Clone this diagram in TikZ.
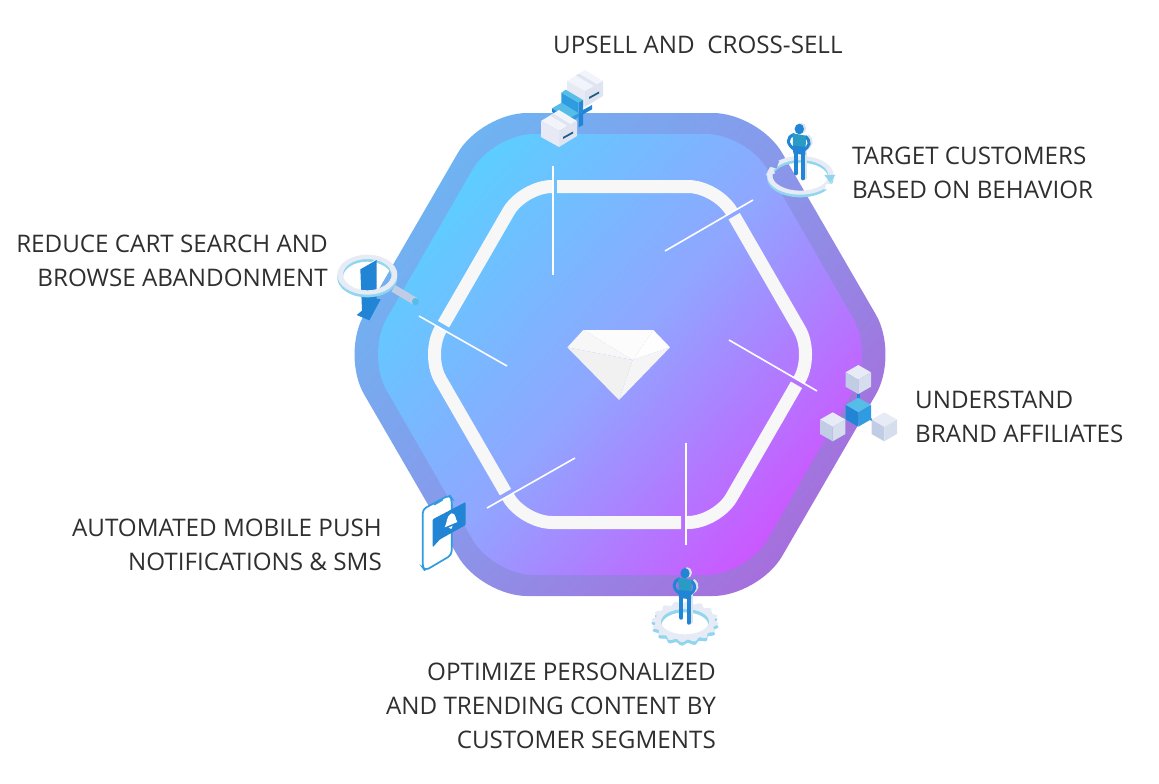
\documentclass[tikz,border=0pt]{standalone}
\usepackage{fontspec}
\setmainfont{Open Sans}
\definecolor{inA}{HTML}{5CCEFF}
\definecolor{inB}{HTML}{90A6FF}
\definecolor{inC}{HTML}{CC56FF}
\definecolor{outA}{HTML}{6EB4F2}
\definecolor{outB}{HTML}{8A96EA}
\definecolor{outC}{HTML}{A66EDC}
\definecolor{ringc}{HTML}{F7F7F7}
\definecolor{txt}{HTML}{2F2F2F}
\definecolor{bluea}{HTML}{2284D5}
\definecolor{blueb}{HTML}{2F9BE0}
\definecolor{bluec}{HTML}{55BDE8}
\definecolor{teal}{HTML}{2A9BC4}
\definecolor{rimc}{HTML}{8FD6EE}
\definecolor{palea}{HTML}{E6EBF5}
\definecolor{paleb}{HTML}{D6DEEE}
\definecolor{palec}{HTML}{C0CDE4}
\definecolor{pshade}{HTML}{DDE4EE}
\definecolor{boxa}{HTML}{F2F4FB}
\definecolor{boxb}{HTML}{E7EAF4}
\definecolor{boxc}{HTML}{E0E4F1}
\pgfdeclarehorizontalshading{ingrad}{100bp}{color(0bp)=(inA); color(25bp)=(inA); color(50bp)=(inB); color(75bp)=(inC); color(100bp)=(inC)}
\pgfdeclarehorizontalshading{outgrad}{100bp}{color(0bp)=(outA); color(25bp)=(outA); color(50bp)=(outB); color(75bp)=(outC); color(100bp)=(outC)}
\tikzset{
  ringseg/.style={draw=ringc,line width=13pt,rounded corners=29pt},
  spoke/.style={draw=white,line width=1.6pt},
  label/.style={font=\fontsize{24.2}{34}\selectfont,text=txt,inner sep=0pt},
}
\newcommand{\isobox}[2]{%
  \begin{scope}[shift={(#1,#2)}]
    \fill[boxa] (0,0) -- (-18,11) -- (0,21) -- (18,11) -- cycle;
    \fill[boxb] (-18,11) -- (0,21) -- (0,37) -- (-18,27) -- cycle;
    \fill[boxc] (18,11) -- (0,21) -- (0,37) -- (18,26) -- cycle;
    \fill[boxc] (-9,5.5) -- (-6,3.7) -- (12,14.5) -- (9,16) -- cycle;
    \fill[blueb!60!black] (4,27) -- (14,21.5) -- (14,23.5) -- (4,29) -- cycle;
  \end{scope}}
\newcommand{\isocube}[5]{%
  \begin{scope}[shift={(#1,#2)}]
    \fill[#3] (0,0) -- (-12.7,7.3) -- (0,14.7) -- (12.7,7.3) -- cycle;
    \fill[#4] (-12.7,7.3) -- (0,14.7) -- (0,29) -- (-12.7,21.7) -- cycle;
    \fill[#5] (12.7,7.3) -- (0,14.7) -- (0,29) -- (12.7,21.7) -- cycle;
  \end{scope}}
\newcommand{\standingman}[2]{%
  \begin{scope}[shift={(#1,#2)},scale=1/3]
    \begin{scope}[shift={(7,-2)}]
      \fill[pshade] (0,0) ellipse (14 and 16);
      \draw[pshade,line width=3pt] (18,22) .. controls (36,38) and (30,52) .. (12,62);
      \draw[pshade,line width=4pt,line cap=round] (11,60) -- (11,148);
    \end{scope}
    \fill[bluea] (0,0) ellipse (14 and 16);
    \draw[bluea,line width=3pt] (-14,16) .. controls (-40,24) and (-38,46) .. (-14,62);
    \draw[bluea,line width=3pt] (18,22) .. controls (36,38) and (32,52) .. (12,64);
    \draw[bluea,line width=4.2pt,line cap=round] (-11,60) -- (-11,133);
    \draw[bluea,line width=4.2pt,line cap=round] (11,60) -- (11,148);
    \fill[teal] (-20,13) -- (20,20) -- (19,58) -- (-19,54) -- cycle;
    \fill[bluea] (-19,50) -- (19,54) -- (18,78) -- (-18,74) -- cycle;
  \end{scope}}
\begin{document}
\begin{tikzpicture}[x=1pt,y=-1pt]
\useasboundingbox (0,0) rectangle (1159,784);
% hexagons
\path[shading=outgrad,shading angle=-42,rounded corners=46pt]
  (481,113) -- (759,113) -- (899,354.5) -- (759,596) -- (481,596) -- (341,354.5) -- cycle;
\path[shading=ingrad,shading angle=-42,rounded corners=41pt]
  (493,134) -- (747,134) -- (874,354.5) -- (747,575) -- (493,575) -- (366,354.5) -- cycle;
% ring corners
\coordinate (rA) at (523,186.5);
\coordinate (rB) at (717,186.5);
\coordinate (rC) at (814,354.5);
\coordinate (rD) at (717,522.5);
\coordinate (rE) at (523,522.5);
\coordinate (rF) at (426,354.5);
\draw[ringseg] (557,186.5) -- (rB) -- (731.7,211.9);
\draw[ringseg] (734.2,216.2) -- (rC) -- (799,380.5);
\draw[ringseg] (796.5,384.8) -- (rD) -- (686,522.5);
\draw[ringseg] (681,522.5) -- (rE) -- (508,496.5);
\draw[ringseg] (505.5,492.2) -- (rF) -- (441,328.5);
\draw[ringseg] (443.5,324.2) -- (rA) -- (553,186.5);
% spokes
\coordinate (s1a) at (553,166); \coordinate (s1b) at (553,275);
\coordinate (s2a) at (753,200); \coordinate (s2b) at (665,251);
\coordinate (s3a) at (817,391); \coordinate (s3b) at (729,340);
\coordinate (s4a) at (686,545); \coordinate (s4b) at (686,443);
\coordinate (s5a) at (487,508); \coordinate (s5b) at (575,458);
\coordinate (s6a) at (419,316); \coordinate (s6b) at (507,366);
\draw[spoke] (s1a) -- (s1b);
\draw[spoke] (s2a) -- (s2b);
\draw[spoke] (s3a) -- (s3b);
\draw[spoke] (s4a) -- (s4b);
\draw[spoke] (s5a) -- (s5b);
\draw[spoke] (s6a) -- (s6b);
% diamond
\begin{scope}[shift={(550,310)},scale=1/3]
  \fill[white!98!gray] (100,60) -- (310,60) -- (248,150) -- cycle;
  \fill[white!94!gray] (100,60) -- (248,150) -- (52,112) -- cycle;
  \fill[white!89!gray] (52,112) -- (248,150) -- (207,270) -- cycle;
  \fill[white!92!gray] (248,150) -- (360,112) -- (207,270) -- cycle;
  \fill[white!99!gray] (310,60) -- (360,112) -- (248,150) -- cycle;
\end{scope}
% boxes and plus
\isobox{585}{70}
\begin{scope}[shift={(520,60)},scale=1/3]
  \fill[bluea] (189,150) -- (216,135) -- (216,148) -- (189,163) -- cycle;
  \fill[bluea] (176,165) -- (189,158) -- (189,195) -- (176,202) -- cycle;
  \fill[blueb] (124,98) -- (176,128) -- (176,168) -- (124,135) -- cycle;
  \fill[bluec] (124,98) -- (137,89) -- (189,120) -- (176,128) -- cycle;
  \fill[bluea!80!blueb] (176,128) -- (189,120) -- (189,160) -- (176,168) -- cycle;
  \fill[bluec] (96,145) -- (125,128) -- (176,160) -- (147,176) -- cycle;
  \fill[bluea] (96,145) -- (147,176) -- (147,187) -- (96,156) -- cycle;
  \fill[blueb] (147,176) -- (176,160) -- (176,171) -- (147,187) -- cycle;
\end{scope}
\isobox{559}{110}
% rotating ring and man (target customers)
\begin{scope}[shift={(520,60)},scale=1/3]
  \begin{scope}[even odd rule]
    \clip (700,260) rectangle (980,430)
      (748,298) -- (778,303) -- (770,326) -- (742,318) -- cycle
      (918,370) -- (950,372) -- (950,388) -- (912,388) -- cycle;
    \fill[rimc] (841,354) ellipse (100 and 58) (841,354) ellipse (84 and 46);
    \fill[palea] (841,346) ellipse (100 and 58) (841,346) ellipse (84 and 46);
  \end{scope}
  \fill[palea] (737,346) -- (766,340) -- (752,322) -- cycle;
  \fill[rimc] (913,345) -- (946,345) -- (931,369) -- cycle;
\end{scope}
\standingman{799.3}{129}
% magnifier
\begin{scope}[shift={(330,240)},scale=1/3]
  \fill[rimc,even odd rule] (112,112) ellipse (90 and 60) (112,112) ellipse (73 and 47);
  \fill[palea,even odd rule] (112,104) ellipse (90 and 60) (112,104) ellipse (73 and 47);
  \draw[palec,line width=7.5pt] (190,145) -- (256,184);
  \fill[bluec] (256,185) ellipse (10 and 11);
  \fill[white] (85,88) -- (135,60) -- (140,70) -- (93,90) -- (93,210) -- (85,212) -- cycle;
  \fill[bluea] (91,88) -- (140,60) -- (140,176) -- (152,178) -- (118,241) -- (80,225) -- (96,212) -- cycle;
  \begin{scope}
    \clip (0,118) rectangle (220,180);
    \fill[rimc,even odd rule] (112,112) ellipse (90 and 60) (112,112) ellipse (73 and 47);
    \fill[palea,even odd rule] (112,104) ellipse (90 and 60) (112,104) ellipse (73 and 47);
  \end{scope}
\end{scope}
% network of cubes
\begin{scope}[shift={(790,350)},scale=1/3]
  \draw[bluea,line width=2.6pt] (205,133) -- (205,165);
  \draw[bluec,line width=2pt] (167,205) -- (148,216);
  \draw[bluea,line width=2pt] (225,198) -- (248,211);
\end{scope}
\isocube{858.3}{365}{palea}{palec}{paleb}
\isocube{832.7}{412.3}{palea}{palec}{paleb}
\isocube{884.3}{412.3}{palea}{palec}{paleb}
\isocube{858.3}{397.7}{bluec}{bluea}{blueb}
% phone
\begin{scope}[shift={(410,480)},scale=1/3]
  \draw[blueb,fill=white,line width=1.7pt,rounded corners=4pt]
    (38,88) -- (118,45) -- (125,55) -- (125,225) -- (45,272) -- (38,262) -- cycle;
  \fill[blueb] (70,72) -- (100,56) -- (98,62) -- (74,76) -- cycle;
  \fill[bluea,rounded corners=1pt] (68,118) -- (167,66) -- (167,135) -- (90,178) -- (68,202) -- cycle;
  \fill[white] (104,142) .. controls (112,130) and (108,108) .. (124,100) .. controls (138,98) and (136,118) .. (142,126) -- cycle;
  \fill[white] (116,143) -- (128,137) -- (124,147) -- cycle;
\end{scope}
% gear and man (optimize)
\begin{scope}[shift={(630,510)},scale=1/3]
  \fill[rimc,even odd rule] plot[domain=0:360,samples=161] ({165+(95+6*sin(16*\x))*cos(\x)},{345+(58+4*sin(16*\x))*sin(\x)}) -- cycle (165,345) ellipse (70 and 38);
  \fill[palea,even odd rule] plot[domain=0:360,samples=161] ({165+(95+6*sin(16*\x))*cos(\x)},{335+(58+4*sin(16*\x))*sin(\x)}) -- cycle (165,335) ellipse (72 and 38);
\end{scope}
\standingman{685}{573.3}
% labels
\node[label,anchor=base west] (upsell) at (553,53) {UPSELL AND\ \ CROSS-SELL};
\node[label,anchor=base west] (target1) at (852,164) {TARGET CUSTOMERS};
\node[label,anchor=base west] (target2) at (852,198) {BASED ON BEHAVIOR};
\node[label,anchor=base east] (reduce1) at (328,252.5) {REDUCE CART SEARCH AND};
\node[label,anchor=base east] (reduce2) at (328,286.5) {BROWSE ABANDONMENT};
\node[label,anchor=base west] (brand1) at (915,408.5) {UNDERSTAND};
\node[label,anchor=base west] (brand2) at (915,442.5) {BRAND AFFILIATES};
\node[label,anchor=base east] (push1) at (382,536.5) {AUTOMATED MOBILE PUSH};
\node[label,anchor=base east] (push2) at (382,570.5) {NOTIFICATIONS \& SMS};
\node[label,anchor=base east] (opt1) at (716,680.5) {OPTIMIZE PERSONALIZED};
\node[label,anchor=base east] (opt2) at (716,714.5) {AND TRENDING CONTENT BY};
\node[label,anchor=base east] (opt3) at (716,748.5) {CUSTOMER SEGMENTS};
\end{tikzpicture}
\end{document}
